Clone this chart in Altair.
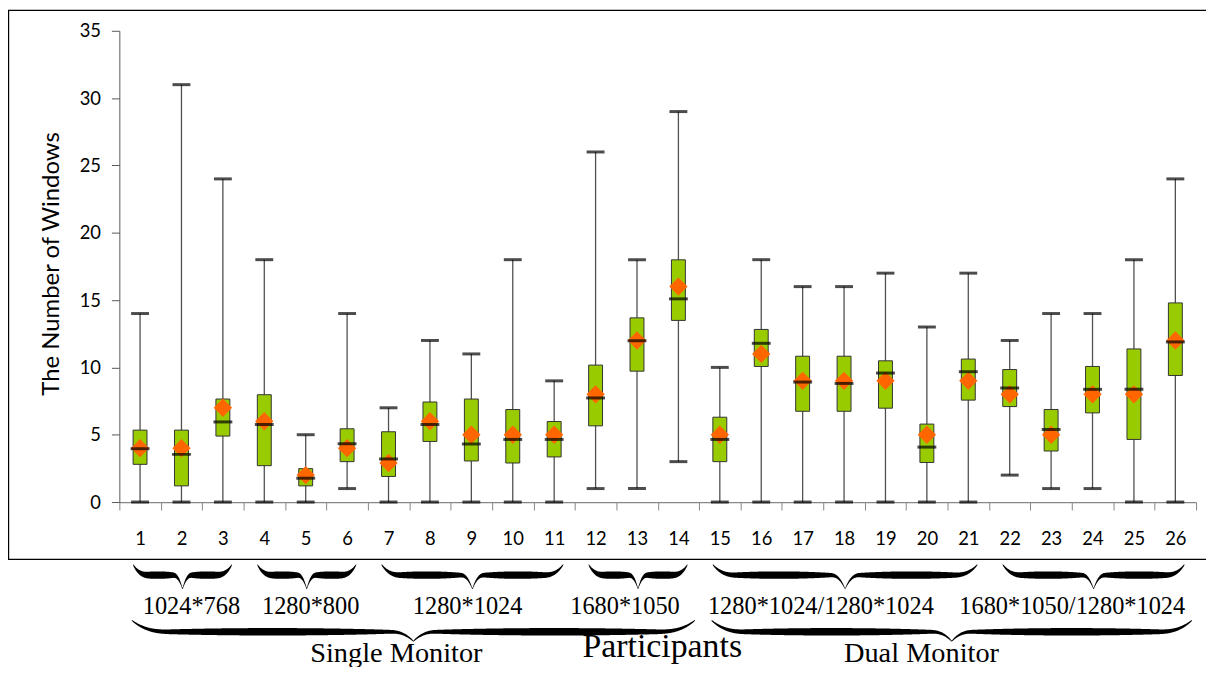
import math
import altair as alt
import pandas as pd

# ---------------- data ----------------
participants = list(range(1, 27))
mins    = [0, 0, 0, 0, 0, 1, 0, 0, 0, 0, 0, 1, 1, 3, 0, 0, 0, 0, 0, 0, 0, 2, 1, 1, 0, 0]
q1s     = [2.8, 1.2, 4.9, 2.7, 1.2, 3.0, 1.9, 4.5, 3.05, 2.9, 3.35, 5.66, 9.72, 13.49, 3.0,
           10.07, 6.74, 6.74, 6.97, 2.94, 7.57, 7.09, 3.79, 6.62, 4.65, 9.4]
medians = [3.96, 3.54, 5.95, 5.76, 1.77, 4.33, 3.2, 5.76, 4.31, 4.65, 4.65, 7.73, 11.98, 15.09,
           4.65, 11.79, 8.91, 8.81, 9.58, 4.08, 9.68, 8.47, 5.39, 8.37, 8.37, 11.89]
q3s     = [5.34, 5.34, 7.65, 7.97, 2.48, 5.44, 5.22, 7.43, 7.65, 6.87, 5.98, 10.17, 13.68, 17.99,
           6.3, 12.82, 10.83, 10.83, 10.49, 5.79, 10.62, 9.84, 6.87, 10.07, 11.37, 14.79]
maxs    = [14, 31, 24, 18, 5, 14, 7, 12, 11, 18, 9, 26, 18, 29, 10, 18, 16, 16, 17, 13, 17, 12,
           14, 14, 18, 24]
means   = [4, 4, 7, 6, 2, 4, 2.9, 6, 5, 5, 5, 8, 12, 16, 5, 11, 9, 9, 9, 5, 9, 8, 5, 8, 8, 12]

y_ticks = [0, 5, 10, 15, 20, 25, 30, 35]

# resolution groups (first participant, last participant, label, label anchor in participant units)
res_first  = [1, 4, 7, 12, 15, 22]
res_last   = [3, 6, 11, 14, 21, 26]
res_labels = ["1024*768", "1280*800", "1280*1024", "1680*1050",
              "1280*1024/1280*1024", "1680*1050/1280*1024"]
res_anchor = [2.24, 5.12, 8.91, 12.71, 17.44, 23.51]

# monitor groups
mon_first  = [1, 15]
mon_last   = [14, 26]
mon_labels = ["Single Monitor", "Dual Monitor"]
mon_anchor = [7.19, 19.87]

x_title = "Participants"
x_title_anchor = [13.61]
y_title = "The Number of Windows"

# ---------------- layout ----------------
W, H = 1083, 474
UNIT = W / len(participants)

df = pd.DataFrame({"p": participants, "min": mins, "q1": q1s, "med": medians,
                   "q3": q3s, "max": maxs, "mean": means})


def brace(lo, hi, y_tip, d1, d2, wmax, bid):
    """Calligraphic under-brace outline (upper/lower edge) between lo and hi."""
    width_px = (hi - lo) * UNIT
    half = width_px / 2
    hx = 0.1 * half + 12
    pw = 0.06 * half + 7
    wmin = 0.9
    rows = []
    n = int(width_px * 2)
    for i in range(n + 1):
        d = width_px * i / n
        dd = min(d, width_px - d)
        if dd < hx:
            t = dd / hx
            yc = y_tip + d1 * (1 - (1 - t) ** 2.8)
        elif dd < half - pw:
            yc = y_tip + d1
        else:
            u = min(1.0, (dd - (half - pw)) / pw)
            yc = y_tip + d1 + d2 * u ** 2.5
        s = max(0.0, math.sin(math.pi * min(dd, half) / half))
        w = wmin + (wmax - wmin) * s ** 0.6
        rows.append({"bx": round(lo + d / UNIT, 5), "yt": round(yc - w / 2, 3),
                     "yb": round(yc + w / 2, 3), "bid": bid})
    return rows


brace_rows = []
for k, (a, b) in enumerate(zip(res_first, res_last)):
    brace_rows += brace(a - 0.17, b + 0.22, 537, 10.5, 14, 7.5, f"r{k}")
for k, (a, b) in enumerate(zip(mon_first, mon_last)):
    brace_rows += brace(a - 0.2, b + 0.4, 593, 11.5, 9.5, 7.5, f"m{k}")
braces = pd.DataFrame(brace_rows)

res_df = pd.DataFrame({"lx": res_anchor, "label": res_labels})
mon_df = pd.DataFrame({"lx": mon_anchor, "label": mon_labels})
title_df = pd.DataFrame({"lx": x_title_anchor, "label": [x_title]})

# ---------------- box plot layers ----------------
xband = alt.X("p:O", scale=alt.Scale(paddingInner=0, paddingOuter=0),
              axis=alt.Axis(title=None, tickBand="extent", labelAngle=0,
                            labelFont="Lato", labelFontSize=18.5, labelColor="black",
                            labelPadding=20, tickSize=8, tickColor="#868686",
                            domainColor="#868686", tickWidth=1, domainWidth=1.2))
ys = alt.Scale(domain=[0, 35], nice=False, zero=True)
yaxis = alt.Axis(values=y_ticks, grid=False, title=y_title, labelFont="Lato",
                 labelFontSize=18.5, labelColor="black", labelPadding=11, tickSize=8,
                 tickColor="#595959", domainColor="#595959", titleFont="Lato",
                 titleFontSize=24, titleFontWeight="normal", titleColor="black",
                 titleAngle=270, titleX=-61, titleY=234, titleAlign="center",
                 titleBaseline="alphabetic")

base = alt.Chart(df)
whisk = base.mark_rule(color="#505050", strokeWidth=1.3).encode(
    x=xband, y=alt.Y("min:Q", scale=ys, axis=yaxis), y2="max:Q")
box = base.mark_bar(size=14, color="#99CC00", stroke="#333333", strokeWidth=1).encode(
    x=xband, y=alt.Y("q1:Q", scale=ys, axis=yaxis), y2="q3:Q")
mean_pt = base.mark_point(shape="diamond", size=340, filled=True, color="#FF6600",
                          opacity=1).encode(
    x=xband, y=alt.Y("mean:Q", scale=ys, axis=yaxis))
med = base.mark_tick(size=19, thickness=3, color="black").encode(
    x=xband, y=alt.Y("med:Q", scale=ys, axis=yaxis))
cap_hi = base.mark_tick(size=18, thickness=3, color="black").encode(
    x=xband, y=alt.Y("max:Q", scale=ys, axis=yaxis))
cap_lo = base.mark_tick(size=18, thickness=3, color="black").encode(
    x=xband, y=alt.Y("min:Q", scale=ys, axis=yaxis))
boxes = alt.layer(whisk, box, mean_pt, med, cap_hi, cap_lo)

# ---------------- annotation layers ----------------
xs = alt.Scale(domain=[0.5, 26.5], nice=False, zero=False)
ypix = alt.Scale(domain=[0, H], range=[0, H], nice=False, zero=False)
brace_layer = alt.Chart(braces).mark_area(color="black", opacity=1).encode(
    x=alt.X("bx:Q", scale=xs, axis=None),
    y=alt.Y("yt:Q", scale=ypix, axis=None, stack=None),
    y2="yb:Q",
    detail="bid:N")
res_text = alt.Chart(res_df).mark_text(font="Liberation Serif", fontSize=24.5,
                                       baseline="alphabetic", align="center",
                                       color="black").encode(
    x=alt.X("lx:Q", scale=xs, axis=None), y=alt.value(587), text="label:N")
mon_text = alt.Chart(mon_df).mark_text(font="Liberation Serif", fontSize=28.5,
                                       baseline="alphabetic", align="center",
                                       color="black").encode(
    x=alt.X("lx:Q", scale=xs, axis=None), y=alt.value(635), text="label:N")
title_text = alt.Chart(title_df).mark_text(font="Liberation Serif", fontSize=34,
                                           baseline="alphabetic", align="center",
                                           color="black").encode(
    x=alt.X("lx:Q", scale=xs, axis=None), y=alt.value(630), text="label:N")
frame = alt.Chart(title_df).mark_rect(fillOpacity=0, stroke="black", strokeWidth=1.4).encode(
    x=alt.value(-111.5), x2=alt.value(1100), y=alt.value(-20.5), y2=alt.value(531.7))
annots = alt.layer(frame, brace_layer, res_text, mon_text, title_text)

chart = alt.layer(boxes, annots).resolve_scale(x="independent", y="independent").properties(
    width=W, height=H,
    autosize=alt.AutoSizeParams(type="none"),
    padding={"left": 112, "top": 21, "right": 10, "bottom": 164},
    background="white",
).configure_view(strokeWidth=0)

chart.save("out.html", embed_options={"renderer": "svg", "actions": False})
